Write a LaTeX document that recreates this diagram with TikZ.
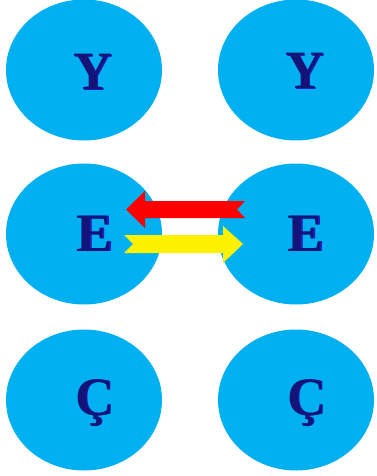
\documentclass[tikz,border=0pt]{standalone}
\usepackage{fontspec}
\setmainfont{Liberation Serif}
\usetikzlibrary{calc, shapes.geometric}

\definecolor{bubble}{RGB}{0,176,240}
\definecolor{letterblue}{RGB}{30,30,190}
\definecolor{lettershade}{RGB}{20,20,120}

\begin{document}
\begin{tikzpicture}[
  x=1pt, y=-1pt,
  bubble/.style = {ellipse, fill=bubble, minimum width=156pt, minimum height=141pt, inner sep=0pt},
  letter/.style = {anchor=base, inner sep=0pt, text=lettershade,
                   font=\fontsize{54}{54}\selectfont\bfseries},
  shade/.style  = {letter, text=letterblue},
  backarr/.style = {fill=red},
  fwdarr/.style  = {fill=yellow},
]
\useasboundingbox (0,0) rectangle (376,476);

% ---- the six bubbles --------------------------------------------------------
\node[bubble] (yL) at ( 84, 70) {};
\node[bubble] (yR) at (296, 70) {};
\node[bubble] (eL) at ( 84,234) {};
\node[bubble] (eR) at (296,234) {};
\node[bubble] (cL) at ( 84,400) {};
\node[bubble] (cR) at (296,400) {};

% ---- letters ----------------------------------------------------------------
\node[shade]  at ( 94.2, 90.2) {Y};
\node[letter] (tyL) at ( 93, 89.5) {Y};
\node[shade]  at (306.2, 89.2) {Y};
\node[letter] (tyR) at (305, 88.5) {Y};
\node[shade]  at ( 96.2,251.7) {E};
\node[letter] (teL) at ( 95,251) {E};
\node[shade]  at (307.2,251.7) {E};
\node[letter] (teR) at (306,251) {E};
\node[shade]  at ( 96.2,415.7) {Ç};
\node[letter] (tcL) at ( 95,415) {Ç};
\node[shade]  at (308.2,415.7) {Ç};
\node[letter] (tcR) at (307,415) {Ç};

% ---- block arrows between the middle bubbles --------------------------------
\coordinate (redtip)  at (126,209.5);
\coordinate (yeltip)  at (243,244);

\fill[backarr] (redtip) -- ++(19,-18.5) -- ++(0,10) -- ++(100,0) -- ++(-8,8.5)
  -- ++(8,8.5) -- ++(-100,0) -- ++(0,10) -- cycle;
\fill[fwdarr] (yeltip) -- ++(-20,-18) -- ++(0,9) -- ++(-99,0) -- ++(9,9)
  -- ++(-9,9) -- ++(99,0) -- ++(0,10) -- cycle;

\end{tikzpicture}
\end{document}
